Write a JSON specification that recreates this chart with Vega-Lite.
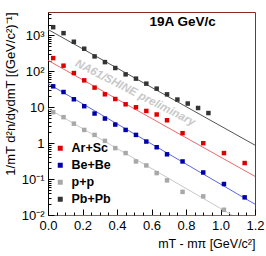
{
  "$schema": "https://vega.github.io/schema/vega-lite/v6.json",
  "width": 207,
  "height": 203,
  "autosize": "none",
  "padding": {"left": 48, "top": 12, "right": 11, "bottom": 41},
  "background": "white",
  "config": {
    "view": {"stroke": "#8b2a2a", "strokeWidth": 1},
    "font": "Liberation Sans"
  },
  "datasets": {
    "pts": [
      {"sys": "Pb+Pb", "x": 0.03, "y": 1700}, {"sys": "Pb+Pb", "x": 0.09, "y": 1160}, {"sys": "Pb+Pb", "x": 0.15, "y": 668}, {"sys": "Pb+Pb", "x": 0.21, "y": 427},
      {"sys": "Pb+Pb", "x": 0.27, "y": 261}, {"sys": "Pb+Pb", "x": 0.33, "y": 181}, {"sys": "Pb+Pb", "x": 0.39, "y": 124}, {"sys": "Pb+Pb", "x": 0.45, "y": 82.5},
      {"sys": "Pb+Pb", "x": 0.51, "y": 62.7}, {"sys": "Pb+Pb", "x": 0.57, "y": 45.5}, {"sys": "Pb+Pb", "x": 0.63, "y": 33}, {"sys": "Pb+Pb", "x": 0.69, "y": 22.9},
      {"sys": "Pb+Pb", "x": 0.75, "y": 16.4}, {"sys": "Pb+Pb", "x": 0.81, "y": 12.7}, {"sys": "Pb+Pb", "x": 0.87, "y": 9.55}, {"sys": "Pb+Pb", "x": 0.93, "y": 6.9},
      {"sys": "Ar+Sc", "x": 0.03, "y": 234}, {"sys": "Ar+Sc", "x": 0.09, "y": 144}, {"sys": "Ar+Sc", "x": 0.15, "y": 89.7}, {"sys": "Ar+Sc", "x": 0.21, "y": 56.2},
      {"sys": "Ar+Sc", "x": 0.27, "y": 35.3}, {"sys": "Ar+Sc", "x": 0.33, "y": 23}, {"sys": "Ar+Sc", "x": 0.39, "y": 17}, {"sys": "Ar+Sc", "x": 0.45, "y": 12.1},
      {"sys": "Ar+Sc", "x": 0.51, "y": 10}, {"sys": "Ar+Sc", "x": 0.57, "y": 7.9}, {"sys": "Ar+Sc", "x": 0.63, "y": 6.3}, {"sys": "Ar+Sc", "x": 0.69, "y": 4.35},
      {"sys": "Ar+Sc", "x": 0.78, "y": 1.9}, {"sys": "Ar+Sc", "x": 0.90, "y": 1.0}, {"sys": "Ar+Sc", "x": 1.02, "y": 0.53}, {"sys": "Ar+Sc", "x": 1.14, "y": 0.28},
      {"sys": "Be+Be", "x": 0.03, "y": 38.3}, {"sys": "Be+Be", "x": 0.09, "y": 26.6}, {"sys": "Be+Be", "x": 0.15, "y": 16.7}, {"sys": "Be+Be", "x": 0.21, "y": 10.7},
      {"sys": "Be+Be", "x": 0.27, "y": 6.7}, {"sys": "Be+Be", "x": 0.33, "y": 4.85}, {"sys": "Be+Be", "x": 0.39, "y": 3.3}, {"sys": "Be+Be", "x": 0.45, "y": 2.34},
      {"sys": "Be+Be", "x": 0.51, "y": 1.70}, {"sys": "Be+Be", "x": 0.57, "y": 1.11}, {"sys": "Be+Be", "x": 0.63, "y": 0.77}, {"sys": "Be+Be", "x": 0.69, "y": 0.49},
      {"sys": "Be+Be", "x": 0.78, "y": 0.31}, {"sys": "Be+Be", "x": 0.90, "y": 0.153}, {"sys": "Be+Be", "x": 1.02, "y": 0.073}, {"sys": "Be+Be", "x": 1.14, "y": 0.031},
      {"sys": "p+p", "x": 0.03, "y": 7.3}, {"sys": "p+p", "x": 0.09, "y": 5.3}, {"sys": "p+p", "x": 0.15, "y": 3.5}, {"sys": "p+p", "x": 0.21, "y": 2.34},
      {"sys": "p+p", "x": 0.27, "y": 1.70}, {"sys": "p+p", "x": 0.33, "y": 1.16}, {"sys": "p+p", "x": 0.39, "y": 0.73}, {"sys": "p+p", "x": 0.45, "y": 0.53},
      {"sys": "p+p", "x": 0.51, "y": 0.31}, {"sys": "p+p", "x": 0.57, "y": 0.24}, {"sys": "p+p", "x": 0.63, "y": 0.147}, {"sys": "p+p", "x": 0.69, "y": 0.092},
      {"sys": "p+p", "x": 0.78, "y": 0.044}, {"sys": "p+p", "x": 0.90, "y": 0.033}, {"sys": "p+p", "x": 1.02, "y": 0.014}
    ],
    "fits": [
      {"sys": "Pb+Pb", "x": 0, "y": 1468}, {"sys": "Pb+Pb", "x": 1.2, "y": 0.88},
      {"sys": "Ar+Sc", "x": 0, "y": 202}, {"sys": "Ar+Sc", "x": 1.2, "y": 0.119},
      {"sys": "Be+Be", "x": 0, "y": 45.5}, {"sys": "Be+Be", "x": 1.2, "y": 0.02},
      {"sys": "p+p", "x": 0, "y": 9.2}, {"sys": "p+p", "x": 1.2, "y": 0.00425}
    ],
    "notes": [
      {"t": "19A GeV/c", "x": 0.78, "y": 2300, "k": "energy"},
      {"t": "NA61/SHINE preliminary", "x": 0.505, "y": 24.5, "k": "prelim"}
    ]
  },
  "layer": [
    {
      "data": {"name": "fits"},
      "mark": {"type": "line", "clip": true, "strokeWidth": 1},
      "encoding": {
        "x": {"field": "x", "type": "quantitative", "scale": {"domain": [0, 1.2], "nice": false},
          "axis": {
            "orient": "bottom",
            "values": [0, 0.2, 0.4, 0.6, 0.8, 1.0, 1.2],
            "format": ".1f",
            "tickSize": -6,
            "labelPadding": 10,
            "labelFontSize": 13, "labelColor": "#000", "labelFont": "Liberation Sans",
            "labelFlush": false, "labelOverlap": false,
            "domainColor": "#7f6a6a", "tickColor": "#000", "grid": false,
            "title": "mT - mπ [GeV/c²]", "titleAnchor": "end", "titleFontWeight": "normal",
            "titleFontSize": 12.5, "titleFont": "Liberation Sans", "titleColor": "#000", "titlePadding": 5
          }},
        "y": {"field": "y", "type": "quantitative", "scale": {"type": "log", "domain": [0.01, 4500], "nice": false},
          "axis": {
            "orient": "left",
            "values": [0.01, 0.1, 1, 10, 100, 1000],
            "labelExpr": "datum.value == 1000 ? '10³' : datum.value == 100 ? '10²' : datum.value == 10 ? '10' : datum.value == 1 ? '1' : datum.value == 0.1 ? '10⁻¹' : '10⁻²'",
            "tickSize": -6,
            "labelPadding": 10,
            "labelFontSize": 13, "labelColor": "#000", "labelFont": "Liberation Sans",
            "labelFlush": false, "labelOverlap": false,
            "domainColor": "#000", "tickColor": "#000", "grid": false,
            "title": "1/mT d²n/dydmT [(GeV/c²)⁻¹]", "titleAnchor": "end", "titleFontWeight": "normal",
            "titleFontSize": 13, "titleFont": "Liberation Sans", "titleColor": "#000", "titlePadding": 4
          }},
        "color": {"field": "sys", "type": "nominal",
          "scale": {"domain": ["Ar+Sc", "Be+Be", "p+p", "Pb+Pb"], "range": ["#ea6b6b", "#5b68e0", "#c8c8c8", "#555555"]},
          "legend": null},
        "detail": {"field": "sys"}
      }
    },
    {
      "data": {"name": "pts"},
      "mark": {"type": "point", "shape": "square", "filled": true, "size": 20, "opacity": 1},
      "encoding": {
        "x": {"field": "x", "type": "quantitative",
          "axis": {"orient": "bottom", "values": [0.05,0.1,0.15,0.25,0.3,0.35,0.45,0.5,0.55,0.65,0.7,0.75,0.85,0.9,0.95,1.05,1.1,1.15],
            "labels": false, "domain": false, "tickSize": -3, "tickColor": "#000", "title": null, "grid": false}},
        "y": {"field": "y", "type": "quantitative",
          "axis": {"orient": "left", "values": [0.02,0.03,0.04,0.05,0.06,0.07,0.08,0.09,0.2,0.3,0.4,0.5,0.6,0.7,0.8,0.9,2,3,4,5,6,7,8,9,20,30,40,50,60,70,80,90,200,300,400,500,600,700,800,900,2000,3000,4000],
            "labels": false, "domain": false, "tickSize": -3, "tickColor": "#000", "title": null, "grid": false}},
        "color": {"field": "sys", "type": "nominal",
          "scale": {"domain": ["Ar+Sc", "Be+Be", "p+p", "Pb+Pb"], "range": ["#dd0000", "#0000aa", "#a8a8a8", "#333333"]},
          "legend": {
            "title": null, "orient": "none", "legendX": 6, "legendY": 130,
            "symbolType": "square", "symbolSize": 25, "symbolStrokeWidth": 0,
            "labelFont": "Liberation Sans", "labelFontWeight": "bold", "labelFontSize": 12.5,
            "labelColor": "#000", "labelOffset": 5, "rowPadding": 4, "padding": 0
          }}
      }
    },
    {
      "data": {"name": "notes"},
      "transform": [{"filter": "datum.k == 'energy'"}],
      "mark": {"type": "text", "font": "Liberation Sans", "fontWeight": "bold", "fontSize": 13.5, "align": "center", "baseline": "middle", "color": "#000"},
      "encoding": {
        "x": {"field": "x", "type": "quantitative", "axis": null},
        "y": {"field": "y", "type": "quantitative", "axis": null},
        "text": {"field": "t"}
      }
    },
    {
      "data": {"name": "notes"},
      "transform": [{"filter": "datum.k == 'prelim'"}],
      "mark": {"type": "text", "font": "Liberation Sans", "fontWeight": "bold", "fontStyle": "italic", "fontSize": 11.5, "align": "center", "baseline": "middle", "color": "#c8c8c8", "angle": 27},
      "encoding": {
        "x": {"field": "x", "type": "quantitative", "axis": null},
        "y": {"field": "y", "type": "quantitative", "axis": null},
        "text": {"field": "t"}
      }
    }
  ],
  "resolve": {"scale": {"color": "independent"}, "axis": {"x": "independent", "y": "independent"}}
}
